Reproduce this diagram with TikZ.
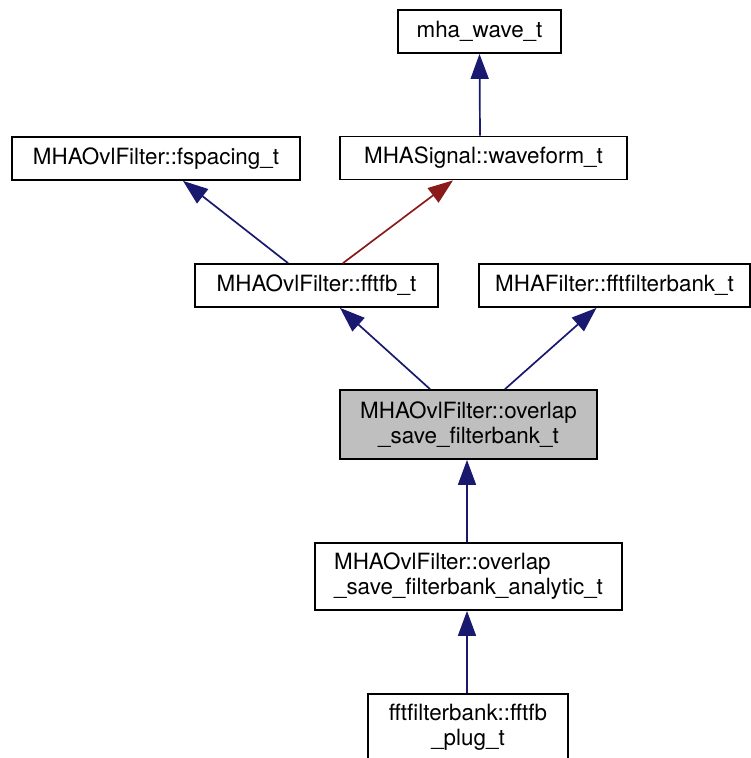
\documentclass[tikz,border=0pt]{standalone}
\usepackage{fontspec}
\setmainfont{TeX Gyre Heros}
\usetikzlibrary{arrows.meta,calc}

\definecolor{edgeblue}{HTML}{191970}
\definecolor{edgered}{HTML}{8B1A1A}
\definecolor{curgray}{HTML}{BFBFBF}

\begin{document}
\begin{tikzpicture}[x=1pt, y=-1pt,
        font=\fontsize{22.4}{25}\selectfont,
        cls/.style={rectangle, draw, line width=1.8pt, fill=white, inner sep=0pt, align=center, minimum height=43pt},
        cur/.style={cls, fill=curgray},
        inh/.style={draw=edgeblue, line width=1.7pt, -{Triangle[length=25pt,width=18pt]}},
        tmpl/.style={inh, draw=edgered}]
        \useasboundingbox (0,0) rectangle (751,758);

        \node [cls, minimum width=163pt] (wave) at (479.5,31.5) {mha\_wave\_t};
        \node [cls, minimum width=287pt] (waveform) at (483.5,158) {MHASignal::waveform\_t};
        \node [cls, minimum width=288pt] (fspacing) at (156,158.5) {MHAOvlFilter::fspacing\_t};
        \node [cls, minimum width=243pt] (fftfb) at (316.5,285.5) {MHAOvlFilter::fftfb\_t};
        \node [cls, minimum width=271pt] (fbank) at (614.5,285.5) {MHAFilter::fftfilterbank\_t};
        \node [cur, minimum width=257pt, minimum height=69pt] (ovl) at (468.5,424.5) {MHAOvlFilter::overlap\\\_save\_filterbank\_t};
        \node [cls, minimum width=307pt, minimum height=67pt, align=left] (analytic) at (468.5,576.5) {MHAOvlFilter::overlap\\\_save\_filterbank\_analytic\_t};
        \node [cls, minimum width=200pt, minimum height=67pt] (plug) at (468,727.5) {fftfilterbank::fftfb\\\_plug\_t};

        \draw [inh] ([xshift=-3.5pt]waveform.north) -- (wave.south);
        \draw [inh] ([xshift=-28.5pt]fftfb.north) -- ([xshift=27pt]fspacing.south);
        \draw [tmpl] ([xshift=26.5pt]fftfb.north) -- ([xshift=-30.5pt]waveform.south);
        \draw [inh] ([xshift=-38.5pt]ovl.north) -- ([xshift=23.5pt]fftfb.south);
        \draw [inh] ([xshift=36.5pt]ovl.north) -- ([xshift=-18pt]fbank.south);
        \draw [inh] ([xshift=-1.5pt]analytic.north) -- ([xshift=-1.5pt]ovl.south);
        \draw [inh] ([xshift=-1pt]plug.north) -- ([xshift=-1.5pt]analytic.south);
    \end{tikzpicture}
\end{document}
